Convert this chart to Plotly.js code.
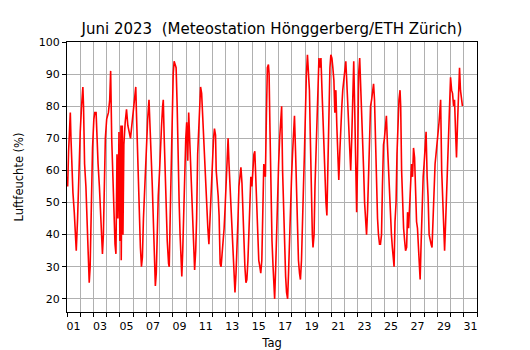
<!DOCTYPE html>
<html>
<head>
<meta charset="utf-8">
<script src="https://cdn.plot.ly/plotly-3.0.1.min.js"></script>
<style>html,body{margin:0;padding:0;background:#fff;}#chart{width:530px;height:350px;}</style>
</head>
<body>
<div id="chart"></div>
<script>
// Zeit in Tagen seit 1. Juni 2023 00:00
const tag = [
  0,0.05,0.12,0.2,0.25,0.3,0.38,0.45,0.55,0.65,0.7,0.8,0.9,1.0,1.1,1.2,1.25,1.33,1.43,1.5,1.6,1.68,1.75,1.83,1.93,
  2.03,2.1,2.2,2.25,2.35,2.45,2.55,2.63,2.68,2.75,2.83,2.9,3.0,3.13,3.23,3.3,3.38,3.45,3.55,3.63,3.7,3.78,3.85,3.93,
  4.0,4.08,4.1,4.18,4.23,4.3,4.4,4.5,4.6,4.8,5.0,5.1,5.2,5.25,5.33,5.4,5.48,5.55,5.63,5.7,5.78,5.85,5.9,6.0,6.1,6.2,
  6.25,6.35,6.45,6.53,6.6,6.68,6.75,6.83,6.9,7.0,
  7.08,7.15,7.23,7.28,7.35,7.43,7.5,7.58,7.68,7.73,7.8,7.88,7.95,8.03,8.1,8.18,8.25,8.33,8.4,8.48,8.55,8.63,8.68,8.75,
  8.83,8.9,8.98,9.05,9.13,9.2,9.28,9.35,9.43,9.5,9.58,9.65,9.73,9.8,9.88,9.95,10.03,10.1,10.18,10.25,10.33,10.43,10.5,
  10.58,10.65,10.73,10.78,10.85,10.93,11.0,11.08,11.15,11.23,11.28,11.35,11.43,11.5,11.58,11.65,11.73,11.8,11.88,11.95,
  12.03,12.1,12.18,12.25,12.33,12.4,12.48,12.55,12.63,12.7,12.78,12.85,12.93,13.0,13.08,13.15,13.23,13.3,13.38,13.45,
  13.53,13.6,13.68,13.75,13.83,13.9,13.98,14.05,14.13,14.2,14.28,14.35,14.43,14.5,14.58,14.65,14.73,14.8,14.88,
  14.93,15.0,15.08,15.15,15.23,15.28,15.35,15.43,15.5,15.58,15.65,15.7,15.78,15.85,15.93,16.0,16.08,16.15,16.23,16.3,
  16.38,16.45,16.53,16.6,16.68,16.75,16.83,16.9,16.98,17.05,17.13,17.2,17.28,17.35,17.43,17.5,17.58,17.65,17.73,17.8,
  17.88,17.95,18.03,18.1,18.18,18.25,18.33,18.4,18.48,18.55,18.6,18.68,18.75,18.83,18.9,18.98,19.05,19.13,19.2,19.28,
  19.35,19.43,19.5,19.58,19.65,19.73,19.8,19.88,19.95,20.03,20.1,20.18,20.25,20.33,20.4,20.48,20.55,20.63,20.7,20.78,
  20.85,20.93,21.0,21.08,21.15,21.23,21.3,21.38,21.45,21.53,21.6,21.68,21.75,21.83,21.9,21.98,22.05,22.13,22.2,22.28,
  22.35,22.43,22.5,22.58,22.65,22.73,22.8,22.88,22.95,23.03,23.1,23.18,23.25,23.33,23.4,23.48,23.55,23.63,23.7,23.78,
  23.85,23.93,24.0,24.08,24.15,24.23,24.3,24.38,24.45,24.53,24.6,24.68,24.73,24.8,24.88,24.95,25.03,25.1,25.18,25.23,
  25.3,25.38,25.45,25.53,25.6,25.68,25.75,25.83,25.9,25.98,26.05,26.13,26.2,26.28,26.35,26.43,26.5,26.58,26.65,26.7,
  26.78,26.85,26.93,27.0,27.08,27.15,27.23,27.3,27.38,27.45,27.53,27.6,27.68,27.75,27.83,27.9,27.98,28.05,28.13,28.2,
  28.25,28.33,28.4,28.48,28.55,28.63,28.7,28.78,28.85,28.93,29.0,29.08,29.15,29.23,29.3,29.38,29.45,29.53,29.6,29.68,
  29.75,29.83,29.9
];
// Relative Luftfeuchte (%)
const feuchte = [
  58,55,66,74,78,70,60,53,47,40,35,45,60,72,80,86,80,62,55,45,33,25,30,50,67,
  76,78,78,72,62,55,46,37,34,40,60,70,76,78,82,91,70,60,45,37,34,65,45,72,
  38,74,32,74,40,68,75,79,74,70,78,83,86,78,66,55,45,36,30,33,45,52,58,70,76,82,
  78,66,55,45,30,24,28,45,52,60,
  70,74,80,82,70,58,45,38,31,30,45,65,80,90,94,93,92,80,60,50,40,33,27,35,
  50,58,70,75,63,78,70,62,50,46,36,29,35,45,65,74,78,86,84,78,70,60,55,
  45,42,37,42,52,58,64,70,73,71,60,57,52,46,31,30,34,38,42,48,
  57,65,70,62,55,48,45,38,30,22,28,40,45,55,59,61,56,45,37,30,
  25,26,32,40,48,58,55,60,65,66,58,47,38,32,30,28,32,45,62,
  60,58,78,92,93,90,72,50,38,30,22,20,30,42,50,62,70,76,80,60,
  45,33,27,22,20,28,40,52,58,65,75,77,66,55,45,32,28,26,32,40,
  55,65,80,90,96,92,85,70,50,40,36,40,55,65,75,88,95,92,95,85,
  76,70,60,50,46,65,74,92,96,95,92,88,78,85,74,63,57,66,75,80,
  85,88,90,94,88,80,70,62,60,70,85,94,80,55,47,65,90,95,88,80,
  72,60,50,45,40,48,60,75,80,82,85,87,82,68,55,45,40,37,37,40,
  55,68,70,74,77,68,60,55,48,40,36,32,30,44,50,65,75,82,85,80,
  60,45,42,38,35,36,47,42,48,55,62,58,67,64,50,44,42,35,27,26,
  38,50,58,62,66,72,58,52,40,38,37,36,45,55,62,65,68,70,75,79,
  82,60,52,37,35,44,52,62,74,84,89,85,84,80,82,72,64,75,84,92,
  85,81,80
];
const tagLabels = ['01','03','05','07','09','11','13','15','17','19','21','23','25','27','29','31'];
const yTicks = [20,30,40,50,60,70,80,90,100];

const gridCol = '#b0b0b0';
const font = 'DejaVu Sans, sans-serif';

const trace = {
  x: tag, y: feuchte, type: 'scatter', mode: 'lines',
  line: {color: '#ff0000', width: 1.6}, hoverinfo: 'skip'
};

const layout = {
  width: 530, height: 350,
  margin: {l: 67, r: 53, t: 42, b: 38},
  paper_bgcolor: '#ffffff', plot_bgcolor: '#ffffff',
  showlegend: false,
  font: {family: font, color: '#000', size: 11},
  title: {
    text: 'Juni 2023  (Meteostation Hönggerberg/ETH Zürich)',
    font: {family: font, size: 15, color: '#000'},
    x: 0.5, xref: 'paper', xanchor: 'center',
    y: 1 - 29/350, yref: 'container', yanchor: 'middle'
  },
  xaxis: {
    range: [0, 31],
    tickmode: 'array',
    tickvals: tagLabels.map(s => parseInt(s, 10) - 0.5),
    ticktext: tagLabels,
    ticks: 'outside', ticklen: 4, tickcolor: 'rgba(0,0,0,0)',
    showgrid: false, zeroline: false,
    showline: true, linecolor: '#000', linewidth: 1, mirror: true,
    tickfont: {family: font, size: 11, color: '#000'},
    minor: {dtick: 1, tick0: 0, ticks: 'outside', ticklen: 4, tickcolor: '#000',
            showgrid: true, gridcolor: gridCol, gridwidth: 1},
    title: {text: 'Tag', font: {family: font, size: 11.5, color: '#000'}, standoff: 8}
  },
  yaxis: {
    range: [15.9, 100],
    tickmode: 'array', tickvals: yTicks, ticktext: yTicks.map(String),
    ticks: 'outside', ticklen: 4, tickcolor: '#000',
    showgrid: true, gridcolor: gridCol, gridwidth: 1, zeroline: false,
    showline: true, linecolor: '#000', linewidth: 1, mirror: true,
    tickfont: {family: font, size: 11, color: '#000'},
    title: {text: 'Luftfeuchte (%)', font: {family: font, size: 11.5, color: '#000'}, standoff: 12}
  }
};

Plotly.newPlot('chart', [trace], layout, {displayModeBar: false, staticPlot: true});
</script>
</body>
</html>
